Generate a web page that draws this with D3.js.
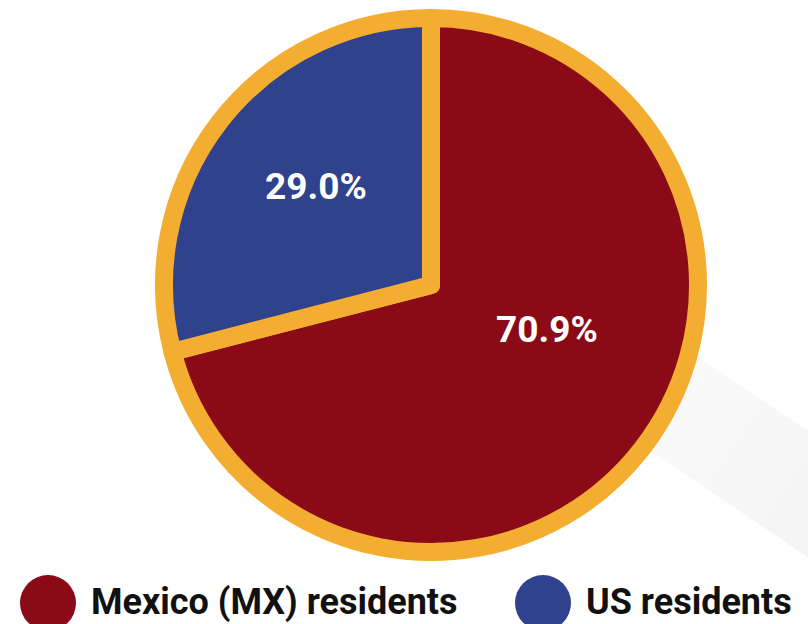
<!DOCTYPE html>
<html>
<head>
<meta charset="utf-8">
<script src="https://cdn.jsdelivr.net/npm/d3@7"></script>
<style>
  html, body { margin: 0; padding: 0; background: #ffffff; }
  svg { display: block; font-family: Roboto, "Noto Sans", sans-serif; }
</style>
</head>
<body>
<div id="chart"></div>
<script>
// chart data
var categories = ["Mexico (MX) residents", "US residents"];
var shares = [70.9, 29.0];
var sliceColors = ["#8a0a18", "#30418d"];

var width = 808, height = 624;
var cx = 431, cy = 285;
var radius = 267;          // radius of slice paths (stroke sits on it)
var ringColor = "#f3ad30";

var svg = d3.select("#chart").append("svg")
    .attr("width", width)
    .attr("height", height);

// soft long shadow behind the pie
var shadowAngle = 34 * Math.PI / 180;
var d = [Math.cos(shadowAngle), Math.sin(shadowAngle)];
var n = [-Math.sin(shadowAngle), Math.cos(shadowAngle)];
var bandTop = -90, bandBottom = 15, bandLen = 700;
function pt(along, across) {
    return [cx + d[0] * along + n[0] * across, cy + d[1] * along + n[1] * across];
}

var defs = svg.append("defs");
var p0 = pt(240, 0), p1 = pt(560, 0);
var grad = defs.append("linearGradient")
    .attr("id", "shadowGrad")
    .attr("gradientUnits", "userSpaceOnUse")
    .attr("x1", p0[0]).attr("y1", p0[1])
    .attr("x2", p1[0]).attr("y2", p1[1]);
grad.append("stop").attr("offset", "0%").attr("stop-color", "#fafafa");
grad.append("stop").attr("offset", "100%").attr("stop-color", "#f2f2f2");

svg.append("polygon")
    .attr("points", [pt(0, bandTop), pt(bandLen, bandTop), pt(bandLen, bandBottom), pt(0, bandBottom)]
        .map(function (p) { return p.join(","); }).join(" "))
    .attr("fill", "url(#shadowGrad)");

// pie
var pie = d3.pie().sort(null).value(function (v) { return v; });
var arcs = pie(shares);
var arc = d3.arc().innerRadius(0).outerRadius(radius);

var g = svg.append("g").attr("transform", "translate(" + cx + "," + cy + ")");

g.selectAll("path.slice")
    .data(arcs)
    .enter().append("path")
    .attr("class", "slice")
    .attr("d", arc)
    .attr("fill", function (a, i) { return sliceColors[i]; })
    .attr("stroke", ringColor)
    .attr("stroke-width", 18)
    .attr("stroke-linejoin", "round");

// percentage labels
var labelRadius = [124, 152];
var labelTurn = [-17, 3];  // degrees nudged from the slice middle
function labelPos(a, i) {
    var ang = (a.startAngle + a.endAngle) / 2 + labelTurn[i] * Math.PI / 180;
    return [Math.sin(ang) * labelRadius[i], -Math.cos(ang) * labelRadius[i]];
}
g.selectAll("text.pct")
    .data(arcs)
    .enter().append("text")
    .attr("class", "pct")
    .attr("x", function (a, i) { return labelPos(a, i)[0]; })
    .attr("y", function (a, i) { return labelPos(a, i)[1]; })
    .attr("dy", "0.36em")
    .attr("text-anchor", "middle")
    .attr("fill", "#ffffff")
    .attr("font-weight", "bold")
    .style("font-size", "37px")
    .text(function (a) { return a.data.toFixed(1) + "%"; });

// legend
var legendX = [48, 543];
var legend = svg.selectAll("g.legend")
    .data(categories)
    .enter().append("g")
    .attr("class", "legend")
    .attr("transform", function (c, i) { return "translate(" + legendX[i] + ",603)"; });

legend.append("circle")
    .attr("r", 28)
    .attr("fill", function (c, i) { return sliceColors[i]; });

legend.append("text")
    .attr("x", 43)
    .attr("y", 11)
    .attr("fill", "#111111")
    .attr("font-weight", "bold")
    .style("font-size", "36px")
    .text(function (c) { return c; });
</script>
</body>
</html>
